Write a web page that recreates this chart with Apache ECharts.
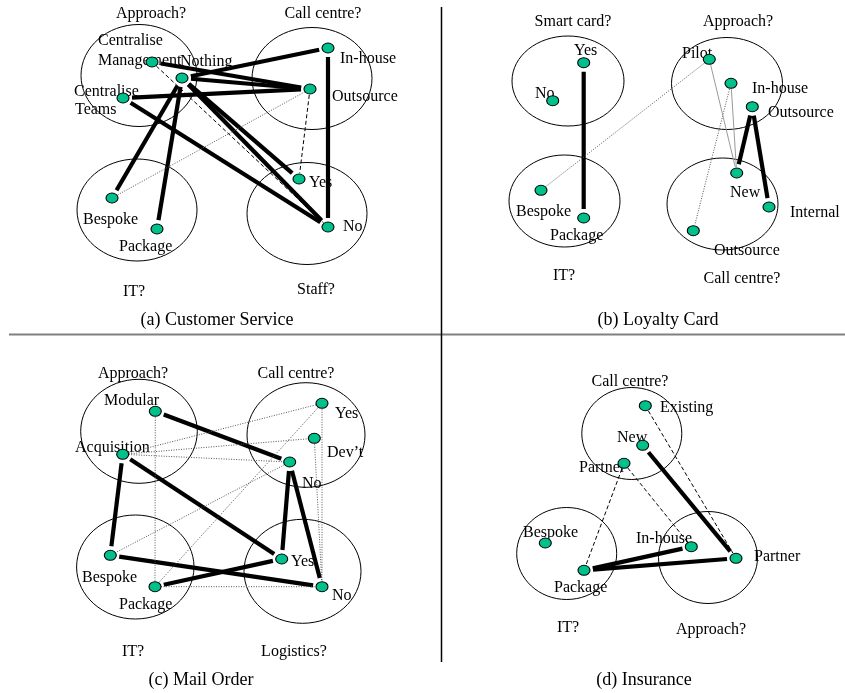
<!DOCTYPE html>
<html>
<head>
<meta charset="utf-8">
<script src="https://cdn.jsdelivr.net/npm/echarts@6/dist/echarts.min.js"></script>
<style>
  html, body { margin: 0; padding: 0; background: #fff; }
  #chart { width: 845px; height: 693px; }
</style>
</head>
<body>
<div id="chart"></div>
<script>
// 画布坐标（与图片像素一致），所有图元都通过坐标轴换算
const W = 845;
const H = 693;

// ---- (a) Customer Service ----
const ellipsesA = [
  [139, 75.5, 58, 51],
  [312, 78.5, 60, 51],
  [137, 210, 60, 51],
  [307, 213.5, 60, 51],
];
const nodesA = {
  cm: [152, 62], nothing: [182, 78], ct: [123, 98],
  inhouse: [328, 48], outsource: [310, 89],
  bespoke: [112, 198], package: [157, 229],
  yes: [299, 179], no: [328, 227],
};
const edgesA = [
  ["nothing", "inhouse", "thick"], ["cm", "outsource", "thick"],
  ["nothing", "outsource", "thick"], ["ct", "outsource", "thick"],
  ["nothing", "bespoke", "thick"], ["nothing", "package", "thick"],
  ["nothing", "yes", "thick"], ["nothing", "no", "thick"],
  ["ct", "no", "thick"], ["inhouse", "no", "thick"],
  ["cm", "no", "dashed"], ["outsource", "yes", "dashed"],
  ["outsource", "bespoke", "dotted"],
];
const labelsA = [
  ["Approach?", 151, 14, "center"], ["Call centre?", 323, 14, "center"],
  ["Centralise", 98, 41, "left"], ["Management", 98, 61, "left"],
  ["Nothing", 180, 62, "left"], ["Centralise", 74, 92, "left"],
  ["Teams", 75, 110, "left"], ["In-house", 340, 59, "left"],
  ["Outsource", 332, 97, "left"], ["Yes", 309, 183, "left"],
  ["No", 343, 227, "left"], ["Bespoke", 83, 220, "left"],
  ["Package", 119, 247, "left"], ["IT?", 134, 292, "center"],
  ["Staff?", 316, 290, "center"],
];

// ---- (b) Loyalty Card ----
const ellipsesB = [
  [568, 81, 56, 45],
  [727, 83.5, 55.5, 46],
  [564.5, 201, 55.5, 46],
  [722.5, 204, 55.5, 46],
];
const nodesB = {
  yes: [583.7, 62.7], no: [552.7, 100.7],
  pilot: [709.3, 59.3], inhouse: [731, 83.3], outsource: [752.3, 106.7],
  bespoke: [541, 190.3], package: [583.7, 218],
  newcc: [736.7, 173], internal: [769, 207], outcc: [693.3, 230.7],
};
const edgesB = [
  ["yes", "package", "thick"], ["outsource", "newcc", "thick"],
  ["outsource", "internal", "thick"],
  ["bespoke", "pilot", "dotted"], ["inhouse", "outcc", "dotted"],
  ["pilot", "newcc", "thin"], ["inhouse", "newcc", "thin"],
];
const labelsB = [
  ["Smart card?", 573, 22, "center"], ["Approach?", 738, 22, "center"],
  ["Yes", 574, 51, "left"], ["No", 535, 94, "left"],
  ["Pilot", 682, 54, "left"], ["In-house", 752, 89, "left"],
  ["Outsource", 768, 113, "left"], ["Bespoke", 516, 212, "left"],
  ["Package", 550, 236, "left"], ["New", 730, 193, "left"],
  ["Internal", 790, 213, "left"], ["Outsource", 714, 251, "left"],
  ["IT?", 564, 276, "center"], ["Call centre?", 742, 279, "center"],
];

// ---- (c) Mail Order ----
const ellipsesC = [
  [139, 431.3, 58.3, 52],
  [306, 435, 59, 52.3],
  [135.3, 567, 58.7, 52],
  [302.5, 571.3, 58.5, 52],
];
const nodesC = {
  modular: [155.3, 411.3], acq: [122.7, 454.3],
  ccyes: [322, 403.3], dev: [314.3, 438.3], ccno: [289.7, 462],
  bespoke: [110.3, 555.3], package: [155, 586.7],
  lyes: [281.7, 559], lno: [322, 586.7],
};
const edgesC = [
  ["modular", "ccno", "thick"], ["acq", "lyes", "thick"],
  ["acq", "bespoke", "thick"], ["ccno", "lyes", "thick"],
  ["ccno", "lno", "thick"], ["bespoke", "lno", "thick"],
  ["package", "lyes", "thick"],
  ["acq", "ccyes", "dotted"], ["acq", "dev", "dotted"],
  ["acq", "ccno", "dotted"], ["modular", "package", "dotted"],
  ["ccyes", "package", "dotted"], ["ccno", "bespoke", "dotted"],
  ["dev", "lno", "dotted"], ["ccyes", "lno", "dotted"],
  ["package", "lno", "dotted"],
];
const labelsC = [
  ["Approach?", 133, 374, "center"], ["Call centre?", 296, 374, "center"],
  ["Modular", 104, 401, "left"], ["Acquisition", 75, 448, "left"],
  ["Yes", 335, 414, "left"], ["Dev\u2019t", 327, 453, "left"],
  ["No", 302, 484, "left"], ["Yes", 291, 562, "left"],
  ["No", 332, 596, "left"], ["Bespoke", 82, 578, "left"],
  ["Package", 119, 605, "left"], ["IT?", 133, 652, "center"],
  ["Logistics?", 294, 652, "center"],
];

// ---- (d) Insurance ----
const ellipsesD = [
  [631.8, 433.5, 50, 46],
  [566.7, 553.5, 50, 46],
  [708, 557.5, 49.5, 46],
];
const nodesD = {
  existing: [645.3, 405.7], newcc: [642.7, 445.3], partnercc: [624, 463.3],
  bespoke: [545.3, 543], package: [584, 570.3],
  inhouse: [691.3, 546.7], partner: [736, 558.3],
};
const edgesD = [
  ["newcc", "partner", "thick"], ["package", "inhouse", "thick"],
  ["package", "partner", "thick"],
  ["existing", "partner", "dashed"], ["partnercc", "inhouse", "dashed"],
  ["partnercc", "package", "dashed"],
];
const labelsD = [
  ["Call centre?", 630, 382, "center"], ["Existing", 660, 408, "left"],
  ["New", 617, 438, "left"], ["Partner", 579, 468, "left"],
  ["Bespoke", 523, 533, "left"], ["Package", 554, 588, "left"],
  ["In-house", 636, 539, "left"], ["Partner", 754, 557, "left"],
  ["IT?", 568, 628, "center"], ["Approach?", 711, 630, "center"],
];

const captions = [
  ["(a) Customer Service", 217, 320],
  ["(b) Loyalty Card", 658, 320],
  ["(c) Mail Order", 201, 680],
  ["(d) Insurance", 644, 680],
];

// 连线样式
const edgeStyles = {
  thick: { lineWidth: 4.2, stroke: "#000", lineDash: null, gap: 9 },
  dashed: { lineWidth: 1, stroke: "#000", lineDash: [4, 2.5], gap: 6 },
  dotted: { lineWidth: 1, stroke: "#555", lineDash: [1, 1.5], gap: 6 },
  thin: { lineWidth: 1, stroke: "#9a9a9a", lineDash: null, gap: 6 },
};
const styleKeys = Object.keys(edgeStyles);

const panels = [
  [nodesA, edgesA], [nodesB, edgesB], [nodesC, edgesC], [nodesD, edgesD],
];

const ellipseData = [].concat(ellipsesA, ellipsesB, ellipsesC, ellipsesD);
const nodeData = [];
const edgeData = [];
panels.forEach(([nodes, edges]) => {
  Object.values(nodes).forEach((p) => nodeData.push(p));
  edges.forEach(([a, b, s]) => {
    edgeData.push([nodes[a][0], nodes[a][1], nodes[b][0], nodes[b][1], styleKeys.indexOf(s)]);
  });
});
const labelData = [].concat(labelsA, labelsB, labelsC, labelsD);

const FONT = '"Liberation Serif", "Times New Roman", serif';

const chart = echarts.init(document.getElementById("chart"));

const option = {
  animation: false,
  backgroundColor: "#fff",
  grid: { left: 0, right: 0, top: 0, bottom: 0 },
  xAxis: { type: "value", min: 0, max: W, show: false },
  yAxis: { type: "value", min: 0, max: H, inverse: true, show: false },
  graphic: [
    // 分隔线
    { type: "line", z: 0, shape: { x1: 9, y1: 334.5, x2: W, y2: 334.5 }, style: { stroke: "#808080", lineWidth: 2 } },
    { type: "line", z: 0, shape: { x1: 441.5, y1: 7, x2: 441.5, y2: 662 }, style: { stroke: "#000", lineWidth: 1.5 } },
  ],
  series: [
    {
      type: "custom",
      name: "ellipses",
      z: 1,
      data: ellipseData,
      encode: { x: 0, y: 1 },
      renderItem: (params, api) => {
        const c = api.coord([api.value(0), api.value(1)]);
        const s = api.size([api.value(2), api.value(3)]);
        return {
          type: "ellipse",
          shape: { cx: c[0], cy: c[1], rx: s[0], ry: s[1] },
          style: { fill: "none", stroke: "#000", lineWidth: 1 },
        };
      },
    },
    {
      type: "custom",
      name: "labels",
      z: 2,
      data: labelData.map((l) => [l[1], l[2]]),
      encode: { x: 0, y: 1 },
      renderItem: (params, api) => {
        const l = labelData[params.dataIndex];
        const c = api.coord([api.value(0), api.value(1)]);
        return {
          type: "text",
          x: c[0],
          y: c[1],
          style: {
            text: l[0],
            fill: "#000",
            font: "16px " + FONT,
            align: l[3],
            verticalAlign: "middle",
          },
        };
      },
    },
    {
      type: "custom",
      name: "captions",
      z: 2,
      data: captions.map((l) => [l[1], l[2]]),
      encode: { x: 0, y: 1 },
      renderItem: (params, api) => {
        const l = captions[params.dataIndex];
        const c = api.coord([api.value(0), api.value(1)]);
        return {
          type: "text",
          x: c[0],
          y: c[1],
          style: {
            text: l[0],
            fill: "#000",
            font: "18px " + FONT,
            align: "center",
            verticalAlign: "middle",
          },
        };
      },
    },
    {
      type: "custom",
      name: "edges",
      z: 3,
      data: edgeData,
      encode: { x: [0, 2], y: [1, 3] },
      renderItem: (params, api) => {
        const p1 = api.coord([api.value(0), api.value(1)]);
        const p2 = api.coord([api.value(2), api.value(3)]);
        const st = edgeStyles[styleKeys[api.value(4)]];
        const dx = p2[0] - p1[0];
        const dy = p2[1] - p1[1];
        const len = Math.sqrt(dx * dx + dy * dy) || 1;
        const ux = dx / len;
        const uy = dy / len;
        return {
          type: "line",
          shape: {
            x1: p1[0] + ux * st.gap, y1: p1[1] + uy * st.gap,
            x2: p2[0] - ux * st.gap, y2: p2[1] - uy * st.gap,
          },
          style: {
            stroke: st.stroke,
            lineWidth: st.lineWidth,
            lineDash: st.lineDash,
            fill: null,
          },
        };
      },
    },
    {
      type: "scatter",
      name: "nodes",
      z: 4,
      data: nodeData,
      symbol: "circle",
      symbolSize: [12, 10],
      itemStyle: { color: "#00c08c", borderColor: "#000", borderWidth: 1, opacity: 1 },
      emphasis: { disabled: true },
    },
  ],
};

chart.setOption(option);
</script>
</body>
</html>
